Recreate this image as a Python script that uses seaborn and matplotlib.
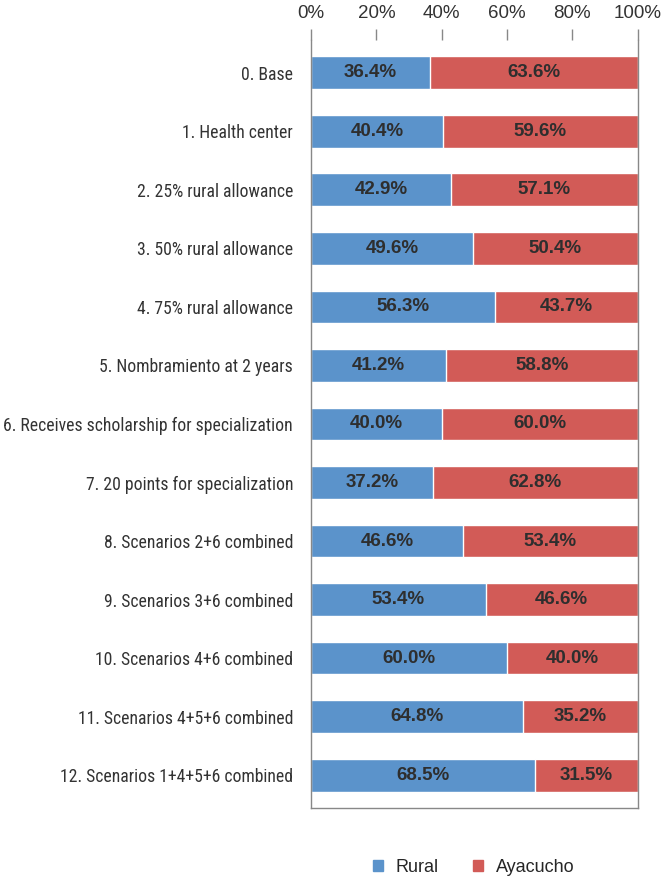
import pandas as pd
import matplotlib.pyplot as plt
import matplotlib.patches as mpatches
import seaborn as sns

sns.set_theme(style="white")
plt.rcParams["font.family"] = ["Liberation Sans", "DejaVu Sans"]

# ------------------------------------------------------------
# data
# ------------------------------------------------------------
scenarios = [
    "0. Base",
    "1. Health center",
    "2. 25% rural allowance",
    "3. 50% rural allowance",
    "4. 75% rural allowance",
    "5. Nombramiento at 2 years",
    "6. Receives scholarship for specialization",
    "7. 20 points for specialization",
    "8. Scenarios 2+6 combined",
    "9. Scenarios 3+6 combined",
    "10. Scenarios 4+6 combined",
    "11. Scenarios 4+5+6 combined",
    "12. Scenarios 1+4+5+6 combined",
]
rural = [36.4, 40.4, 42.9, 49.6, 56.3, 41.2, 40.0, 37.2, 46.6, 53.4, 60.0, 64.8, 68.5]
ayacucho = [63.6, 59.6, 57.1, 50.4, 43.7, 58.8, 60.0, 62.8, 53.4, 46.6, 40.0, 35.2, 31.5]
xticks = [0, 20, 40, 60, 80, 100]

BLUE = "#5B93CB"
RED = "#D25B57"
TXT = "#2e2e2e"

df = pd.DataFrame({"scenario": scenarios, "Rural": rural, "Ayacucho": ayacucho})
df["total"] = df["Rural"] + df["Ayacucho"]

fig = plt.figure(figsize=(6.72, 8.83), dpi=100)
ax = fig.add_axes([0.463, 0.085, 0.486, 0.8697])

# stacked: full bar in red, rural part over it in blue
sns.barplot(data=df, y="scenario", x="total", color=RED, orient="h",
            width=0.56, saturation=1, ax=ax)
sns.barplot(data=df, y="scenario", x="Rural", color=BLUE, orient="h",
            width=0.56, saturation=1, ax=ax)

for i, (r, a) in enumerate(zip(rural, ayacucho)):
    ax.text(r / 2, i, f"{r:.1f}%", ha="center", va="center",
            fontsize=13.5, fontweight="bold", color=TXT)
    ax.text(r + a / 2, i, f"{a:.1f}%", ha="center", va="center",
            fontsize=13.5, fontweight="bold", color=TXT)

ax.set_xlim(0, 100)
ax.set_ylim(12.56, -0.56)
ax.set_xticks(xticks)
ax.set_xticklabels([f"{t}%" for t in xticks], fontsize=13.5, color="#333333")
ax.xaxis.tick_top()
ax.tick_params(axis="x", which="both", top=True, bottom=False, length=8, width=1,
               color="#888888", direction="out", pad=5)
ax.tick_params(axis="y", left=False, length=0, pad=13)
for lab in ax.get_yticklabels():
    lab.set_family(["Roboto Condensed", "DejaVu Sans"])
    lab.set_fontsize(12.7)
    lab.set_color("#333333")
ax.set_xlabel("")
ax.set_ylabel("")

for side in ["left", "right", "bottom"]:
    ax.spines[side].set_color("#888888")
    ax.spines[side].set_linewidth(1)
ax.spines["top"].set_visible(False)

handles = [mpatches.Patch(color=BLUE, label="Rural"),
           mpatches.Patch(color=RED, label="Ayacucho")]
fig.legend(handles=handles, loc="center", bbox_to_anchor=(0.705, 0.018), ncol=2,
           frameon=False, handlelength=0.55, handleheight=0.55,
           columnspacing=1.9, handletextpad=0.7,
           prop={"size": 13})

fig.savefig("out.png", dpi=100)
